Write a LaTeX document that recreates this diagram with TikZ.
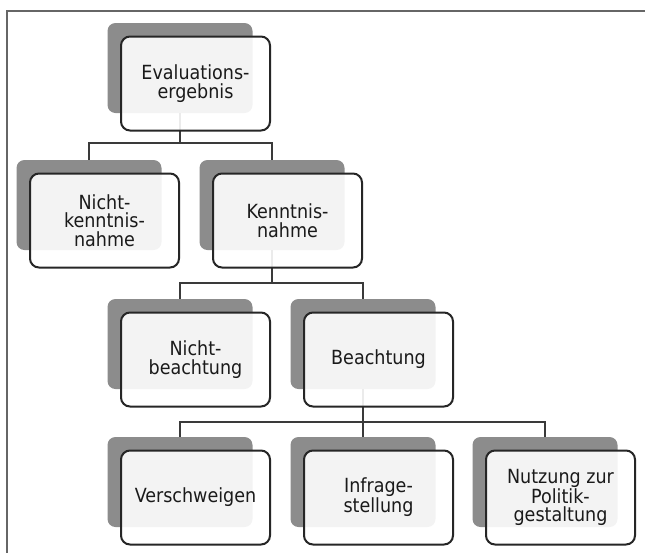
\documentclass[tikz,border=0pt]{standalone}
\usepackage{fontspec}
\setmainfont{DejaVu Sans Condensed}
\usepackage{tikz}

\definecolor{shade}{HTML}{8C8C8C}
\definecolor{linecol}{HTML}{3A3A3A}
\definecolor{textcol}{HTML}{1A1A1A}

\tikzset{
	shadowbox/.style={fill=shade, rounded corners=8pt, minimum width=145pt, minimum height=90pt, inner sep=0pt},
	frontbox/.style={draw=black!85, line width=2pt, fill=white, fill opacity=0.9, text opacity=1,
		rounded corners=9pt, minimum width=149pt, minimum height=94pt, align=center,
		text=textcol, font=\fontsize{19.5}{18.5}\selectfont},
	link/.style={draw=linecol, line width=2pt}
}

\begin{document}
\begin{tikzpicture}[x=1pt, y=-1pt]
	\useasboundingbox (0,0) rectangle (645,552);
	\fill [white] (0,0) rectangle (645,552);
	\draw [color=black!60, line width=1.5pt] (7,560) -- (7,11) -- (660,11);

	% shadows
	\node [shadowbox] (eval) at (180,68) {};
	\node [shadowbox] (nk) at (89,205) {};
	\node [shadowbox] (kn) at (272,205) {};
	\node [shadowbox] (nb) at (180,344) {};
	\node [shadowbox] (be) at (363,344) {};
	\node [shadowbox] (ve) at (180,482) {};
	\node [shadowbox] (in) at (363,482) {};
	\node [shadowbox] (nu) at (545,482) {};

	% connectors
	\draw [link] (eval.south) -- ++(0,30) -| (nk.north);
	\draw [link] (eval.south) -- ++(0,30) -| (kn.north);
	\draw [link] (kn.south) -- ++(0,33) -| (nb.north);
	\draw [link] (kn.south) -- ++(0,33) -| (be.north);
	\draw [link] (be.south) -- ++(0,33) -| (ve.north);
	\draw [link] (be.south) -- ++(0,33) -| (in.north);
	\draw [link] (be.south) -- ++(0,33) -| (nu.north);

	% boxes
	\node [frontbox] (eval-f) at ([shift={(15.5,15.5)}]eval) {Evaluations-\\ergebnis};
	\node [frontbox] (nk-f) at ([shift={(15.5,15.5)}]nk) {Nicht-\\kenntnis-\\nahme};
	\node [frontbox] (kn-f) at ([shift={(15.5,15.5)}]kn) {Kenntnis-\\nahme};
	\node [frontbox] (nb-f) at ([shift={(15.5,15.5)}]nb) {Nicht-\\beachtung};
	\node [frontbox] (be-f) at ([shift={(15.5,15.5)}]be) {Beachtung};
	\node [frontbox] (ve-f) at ([shift={(15.5,15.5)}]ve) {Verschweigen};
	\node [frontbox] (in-f) at ([shift={(15.5,15.5)}]in) {Infrage-\\stellung};
	\node [frontbox] (nu-f) at ([shift={(15.5,15.5)}]nu) {Nutzung zur\\Politik-\\gestaltung};
\end{tikzpicture}
\end{document}
